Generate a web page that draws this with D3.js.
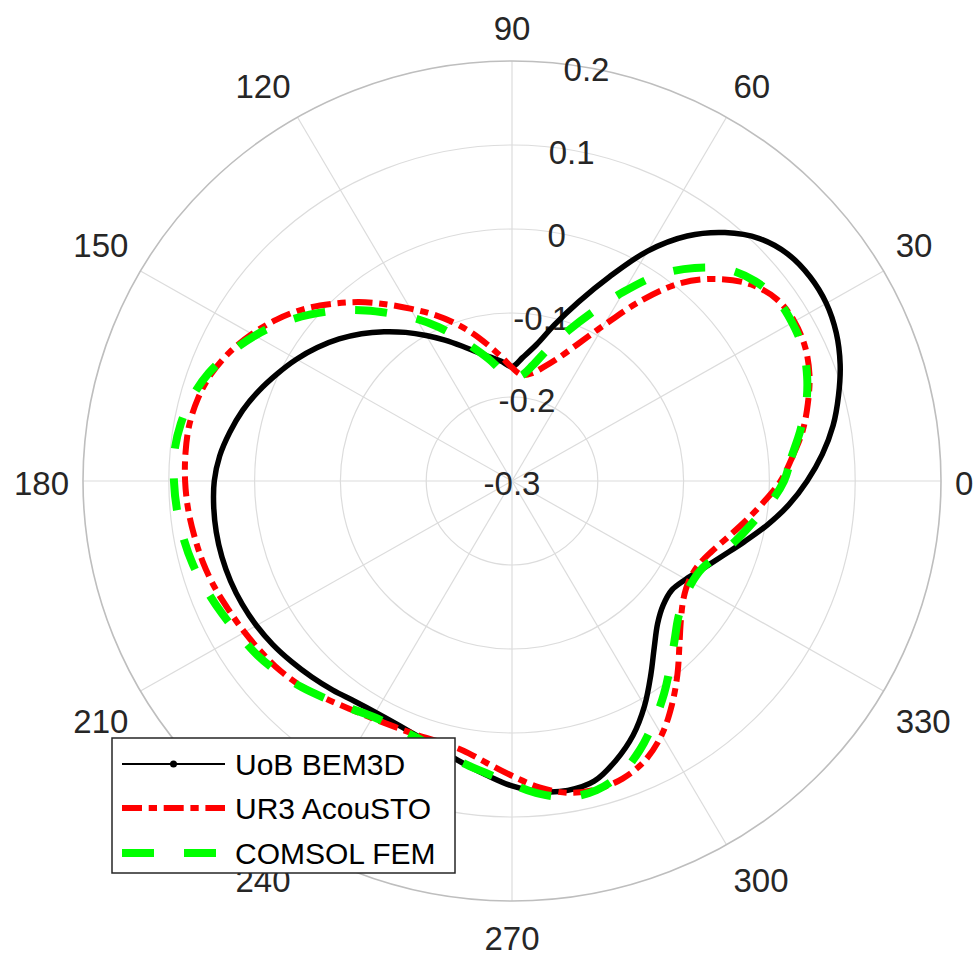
<!DOCTYPE html>
<html><head><meta charset="utf-8">
<script src="https://cdn.jsdelivr.net/npm/d3@7"></script>
<style>
body{margin:0;background:#fff;}
svg{display:block;font-family:"Liberation Sans",Arial,Helvetica,sans-serif;}
</style>
</head><body>
<svg id="chart" width="975" height="953"></svg>
<script>
// ---- data (angle in degrees, radial value) ----
const thetaDeg = [0,5,10,15,20,25,30,35,40,45,50,55,60,65,70,75,80,85,90,95,100,105,110,115,
  120,125,130,135,140,145,150,155,160,165,170,175,180,185,190,195,200,205,210,215,220,225,230,235,
  240,245,250,255,260,265,270,275,280,285,290,295,300,305,310,315,320,325,330,335,340,345,350,355];

const uobBem3d = [0.044,0.063,0.080,0.094,0.107,0.117,0.123,0.124,0.120,0.108,0.086,0.056,
  0.016,-0.032,-0.073,-0.107,-0.135,-0.152,-0.164,-0.157,-0.150,-0.141,-0.129,-0.115,
  -0.100,-0.084,-0.068,-0.052,-0.037,-0.023,-0.010,0.002,0.014,0.025,0.034,0.042,
  0.047,0.049,0.050,0.050,0.049,0.047,0.044,0.040,0.035,0.030,0.025,0.020,
  0.018,0.019,0.023,0.030,0.040,0.051,0.063,0.071,0.074,0.070,0.054,0.034,
  0.009,-0.018,-0.042,-0.060,-0.070,-0.073,-0.066,-0.054,-0.039,-0.020,0.002,0.024];

const ur3Acousto = [0.013,0.028,0.044,0.057,0.069,0.077,0.080,0.077,0.064,0.040,0.008,-0.038,
  -0.086,-0.121,-0.145,-0.160,-0.170,-0.173,-0.165,-0.151,-0.135,-0.117,-0.099,-0.081,
  -0.063,-0.043,-0.022,-0.002,0.018,0.035,0.050,0.063,0.073,0.079,0.082,0.082,
  0.081,0.079,0.076,0.073,0.069,0.064,0.060,0.056,0.052,0.046,0.038,0.031,
  0.026,0.023,0.022,0.022,0.026,0.037,0.051,0.066,0.077,0.080,0.077,0.067,
  0.049,0.025,0.000,-0.024,-0.043,-0.056,-0.062,-0.061,-0.053,-0.040,-0.024,-0.006];

const comsolFem = [0.017,0.027,0.041,0.055,0.066,0.074,0.077,0.077,0.070,0.056,0.031,0.000,
  -0.040,-0.078,-0.110,-0.137,-0.160,-0.174,-0.177,-0.169,-0.154,-0.138,-0.119,-0.098,
  -0.077,-0.057,-0.035,-0.013,0.008,0.028,0.046,0.062,0.076,0.086,0.092,0.095,
  0.094,0.092,0.089,0.085,0.079,0.073,0.067,0.062,0.055,0.047,0.038,0.030,
  0.024,0.023,0.025,0.031,0.040,0.049,0.061,0.074,0.082,0.081,0.071,0.053,
  0.031,0.009,-0.013,-0.032,-0.047,-0.055,-0.058,-0.055,-0.043,-0.029,-0.015,0.002];

const seriesNames = ["UoB BEM3D","UR3 AcouSTO","COMSOL FEM"];
const thetaTicks = [0,30,60,90,120,150,180,210,240,270,300,330];
const rTicks = [-0.3,-0.2,-0.1,0,0.1,0.2];
const rTickLabels = ["-0.3","-0.2","-0.1","0","0.1","0.2"];
const rDomain = [-0.3,0.2];

// ---- layout ----
const cx = 512, cy = 481, RX = 429, RY = 420;
const svg = d3.select("#chart");
const rScale = d3.scaleLinear().domain(rDomain).range([0,1]);
const aScale = d3.scaleLinear().domain([0,360]).range([0,2*Math.PI]);
const px = (t,v) => cx + RX*rScale(v)*Math.cos(aScale(t));
const py = (t,v) => cy - RY*rScale(v)*Math.sin(aScale(t));

const grid = svg.append("g");
grid.selectAll("ellipse.ring").data(rTicks.filter(v => v > rDomain[0] && v < rDomain[1]))
  .join("ellipse").attr("class","ring")
  .attr("cx",cx).attr("cy",cy)
  .attr("rx",v => RX*rScale(v)).attr("ry",v => RY*rScale(v))
  .attr("fill","none").attr("stroke","#dcdcdc").attr("stroke-width",1.2);
grid.selectAll("line.spoke").data(thetaTicks).join("line").attr("class","spoke")
  .attr("x1",cx).attr("y1",cy)
  .attr("x2",t => px(t,rDomain[1])).attr("y2",t => py(t,rDomain[1]))
  .attr("stroke","#dcdcdc").attr("stroke-width",1.2);
grid.append("ellipse").attr("cx",cx).attr("cy",cy).attr("rx",RX).attr("ry",RY)
  .attr("fill","none").attr("stroke","#bebebe").attr("stroke-width",1.6);

// theta labels
const pad = 14;
svg.append("g").selectAll("text").data(thetaTicks).join("text")
  .attr("font-size",33).attr("fill","#262626")
  .attr("x",t => cx + (RX+pad)*Math.cos(aScale(t)))
  .attr("y",t => {
    const s = Math.sin(aScale(t));
    const y = cy - (RY+pad)*s;
    if (s > 0.01) return y - 7;
    if (s < -0.01) return y + 35;
    return y + 14;
  })
  .attr("text-anchor",t => {
    const c = Math.cos(aScale(t));
    return c > 0.01 ? "start" : (c < -0.01 ? "end" : "middle");
  })
  .text(t => t);

// radial labels at 80 deg
const rLabAng = 80;
svg.append("g").selectAll("text").data(rTicks).join("text")
  .attr("font-size",33).attr("fill","#262626").attr("text-anchor","middle")
  .attr("x",v => px(rLabAng,v)).attr("y",v => py(rLabAng,v) + 14)
  .text((v,i) => rTickLabels[i]);

// curves
const line = d3.line()
  .x(d => px(d[0],d[1])).y(d => py(d[0],d[1]))
  .curve(d3.curveCatmullRomClosed.alpha(0.5));
const styles = [
  {values: uobBem3d, color:"#000000", width:5.5, dash:null},
  {values: ur3Acousto, color:"#ff0000", width:6, dash:"20,6.7,8.3,6.7"},
  {values: comsolFem, color:"#00ff00", width:8, dash:"32,30"}
];
const curves = svg.append("g");
styles.forEach(s => {
  curves.append("path")
    .datum(thetaDeg.map((t,i) => [t, s.values[i]]))
    .attr("d",line).attr("fill","none")
    .attr("stroke",s.color).attr("stroke-width",s.width)
    .attr("stroke-dasharray",s.dash).attr("stroke-linejoin","round");
});

// legend
const lg = svg.append("g");
lg.append("rect").attr("x",112).attr("y",738).attr("width",343).attr("height",135)
  .attr("fill","#fff").attr("stroke","#262626").attr("stroke-width",1.5);
const rowY = [764,808,853];
const legStyles = [
  {color:"#000", width:2, dash:null},
  {color:"#ff0000", width:6, dash:"20,6.7,8.3,6.7"},
  {color:"#00ff00", width:8, dash:"32,30"}
];
seriesNames.forEach((name,i) => {
  lg.append("line").attr("x1",122).attr("x2",225).attr("y1",rowY[i]).attr("y2",rowY[i])
    .attr("stroke",legStyles[i].color).attr("stroke-width",legStyles[i].width)
    .attr("stroke-dasharray",legStyles[i].dash);
  if (i === 0) lg.append("circle").attr("cx",173.5).attr("cy",rowY[i]).attr("r",3.5).attr("fill","#000");
  lg.append("text").attr("x",235).attr("y",rowY[i]+11).attr("font-size",30).attr("fill","#000")
    .text(name);
});
</script>
</body></html>
